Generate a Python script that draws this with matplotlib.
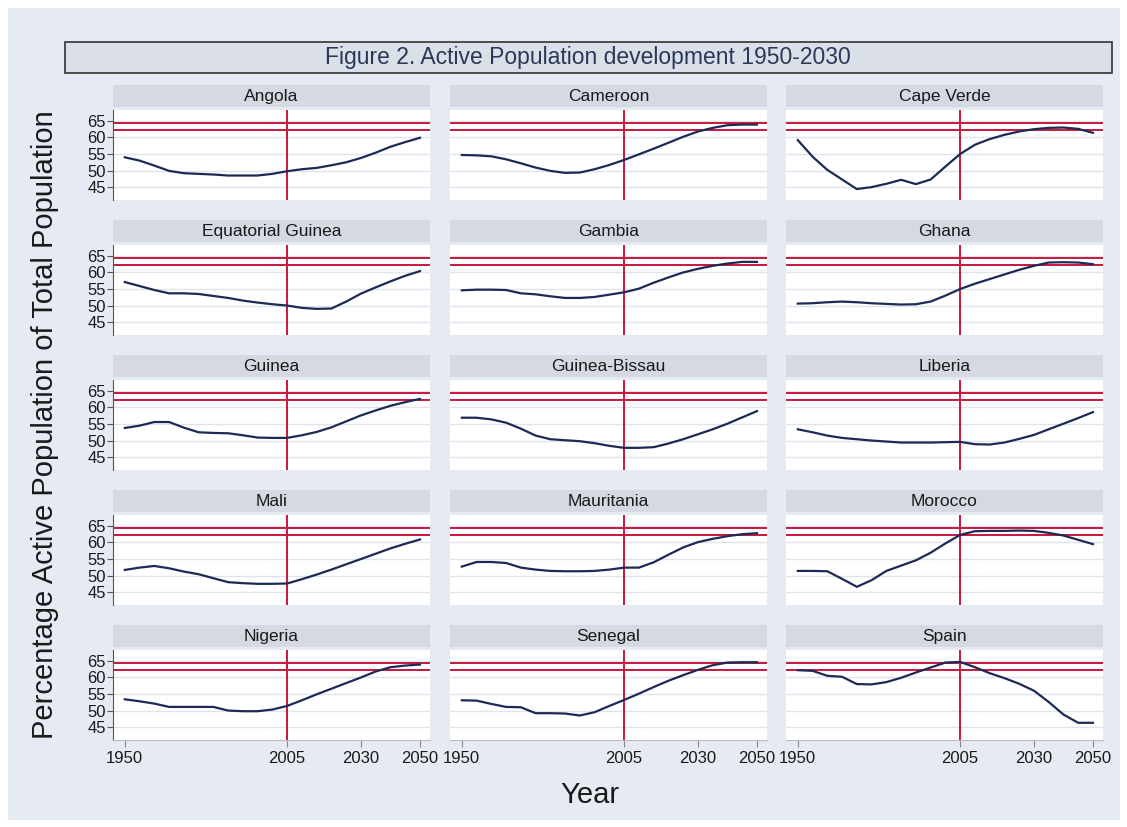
import numpy as np
import matplotlib.pyplot as plt
from matplotlib.patches import Rectangle

plt.rcParams['font.family'] = ['Liberation Sans', 'DejaVu Sans']

years = list(range(1950, 2051, 5))

countries = ["Angola", "Cameroon", "Cape Verde",
             "Equatorial Guinea", "Gambia", "Ghana",
             "Guinea", "Guinea-Bissau", "Liberia",
             "Mali", "Mauritania", "Morocco",
             "Nigeria", "Senegal", "Spain"]

angola = [54.0, 53.0, 51.5, 49.9, 49.2, 49.0, 48.8, 48.5, 48.5, 48.5, 49.0,
          49.8, 50.4, 50.8, 51.6, 52.5, 53.8, 55.4, 57.2, 58.6, 59.9]
cameroon = [54.7, 54.6, 54.3, 53.4, 52.2, 50.9, 49.9, 49.3, 49.4, 50.4, 51.7,
            53.2, 54.9, 56.6, 58.4, 60.2, 61.8, 62.9, 63.7, 63.9, 63.9]
cape_verde = [59.2, 54.2, 50.2, 47.3, 44.4, 45.0, 46.0, 47.2, 45.9, 47.3, 51.2,
              55.0, 57.8, 59.5, 60.8, 61.8, 62.5, 62.9, 63.0, 62.6, 61.4]
eq_guinea = [57.1, 55.9, 54.7, 53.7, 53.7, 53.5, 52.9, 52.3, 51.5, 50.9, 50.4,
             50.0, 49.3, 49.0, 49.1, 51.2, 53.6, 55.5, 57.3, 59.0, 60.4]
gambia = [54.6, 54.8, 54.8, 54.7, 53.7, 53.4, 52.8, 52.3, 52.3, 52.6, 53.3,
          54.0, 55.1, 56.9, 58.5, 60.0, 61.1, 62.0, 62.7, 63.2, 63.2]
ghana = [50.6, 50.7, 51.0, 51.2, 51.0, 50.7, 50.5, 50.3, 50.4, 51.2, 53.0,
         55.0, 56.6, 58.0, 59.4, 60.8, 62.0, 63.0, 63.1, 63.0, 62.5]
guinea = [53.8, 54.5, 55.6, 55.6, 53.9, 52.5, 52.3, 52.2, 51.6, 50.9, 50.8,
          50.8, 51.6, 52.6, 54.0, 55.8, 57.6, 59.1, 60.5, 61.6, 62.6]
guinea_bissau = [56.9, 56.9, 56.4, 55.4, 53.6, 51.5, 50.4, 50.1, 49.8, 49.2, 48.4,
                 47.8, 47.8, 48.0, 49.1, 50.4, 51.9, 53.4, 55.1, 57.0, 58.9]
liberia = [53.4, 52.5, 51.5, 50.8, 50.4, 50.0, 49.7, 49.4, 49.4, 49.4, 49.5,
           49.6, 48.9, 48.8, 49.4, 50.5, 51.7, 53.4, 55.1, 56.8, 58.6]
mali = [51.7, 52.4, 52.9, 52.2, 51.2, 50.4, 49.2, 48.0, 47.7, 47.5, 47.5,
        47.6, 48.9, 50.3, 51.8, 53.4, 55.0, 56.6, 58.2, 59.6, 60.9]
mauritania = [52.7, 54.1, 54.1, 53.8, 52.4, 51.8, 51.4, 51.3, 51.3, 51.4, 51.8,
              52.4, 52.4, 54.0, 56.3, 58.5, 60.1, 61.1, 61.9, 62.5, 62.8]
morocco = [51.4, 51.4, 51.3, 49.0, 46.6, 48.6, 51.4, 53.0, 54.6, 56.9, 59.7,
           62.3, 63.4, 63.5, 63.5, 63.6, 63.5, 62.9, 62.1, 60.8, 59.5]
nigeria = [53.4, 52.8, 52.1, 51.1, 51.1, 51.1, 51.1, 50.0, 49.8, 49.8, 50.3,
           51.4, 53.1, 54.9, 56.6, 58.3, 60.0, 61.8, 63.1, 63.6, 63.9]
senegal = [53.1, 53.0, 52.0, 51.1, 51.0, 49.2, 49.2, 49.1, 48.5, 49.5, 51.4,
           53.2, 55.1, 57.1, 59.0, 60.7, 62.3, 63.7, 64.5, 64.6, 64.6]
spain = [62.2, 62.0, 60.5, 60.2, 58.0, 57.9, 58.6, 59.9, 61.5, 63.0, 64.5,
         64.7, 63.1, 61.3, 59.8, 58.1, 56.0, 52.6, 48.8, 46.3, 46.3]

series = [angola, cameroon, cape_verde, eq_guinea, gambia, ghana, guinea,
          guinea_bissau, liberia, mali, mauritania, morocco, nigeria, senegal, spain]

ref_levels = [62.2, 64.5]
ref_year = 2005
y_ticks = [45, 50, 55, 60, 65]
x_ticks = [1950, 2005, 2030, 2050]

W, H = 1127, 827
fig = plt.figure(figsize=(W / 100, H / 100), dpi=100, facecolor='white')

# hellblauer Hintergrund wie im Stata-Schema
fig.patches.append(Rectangle((8 / W, 1 - 820 / H), 1112 / W, 812 / H,
                             transform=fig.transFigure, facecolor='#e6eaf2',
                             edgecolor='none', zorder=-5))

# Titelkasten
fig.patches.append(Rectangle((65 / W, 1 - 73 / H), 1047 / W, 31 / H,
                             transform=fig.transFigure, facecolor='#dadfe8',
                             edgecolor='#333333', linewidth=1.2, zorder=-4))
fig.text(588 / W, 1 - 57.5 / H, "Figure 2. Active Population development 1950-2030",
         ha='center', va='center', fontsize=16.5, color='#2a3858')

col_left = [113, 450, 786]
panel_w = 317
red = '#c8163c'
navy = '#1c2a55'

for i, (name, vals) in enumerate(zip(countries, series)):
    r, c = divmod(i, 3)
    top = 110 + 135 * r
    x0 = col_left[c]
    ax = fig.add_axes([x0 / W, 1 - (top + 90) / H, panel_w / W, 90 / H])
    ax.set_facecolor('white')
    ax.set_xlim(1946, 2053.4)
    ax.set_ylim(41.1, 68.3)
    ax.set_yticks(y_ticks)
    ax.set_xticks(x_ticks)
    for yv in y_ticks:
        ax.axhline(yv, color='#dfe3ea', lw=1.0, zorder=1)
    for lv in ref_levels:
        ax.axhline(lv, color=red, lw=1.4, zorder=2)
    ax.axvline(ref_year, color=red, lw=1.4, zorder=2)
    ax.plot(years, vals, color=navy, lw=1.6, zorder=3)

    for s in ['top', 'right']:
        ax.spines[s].set_visible(False)
    if c == 0:
        ax.spines['left'].set_color('#555555')
        ax.tick_params(axis='y', length=4, color='#555555', labelsize=12,
                       pad=1, labelcolor='#1a1a1a')
    else:
        ax.spines['left'].set_visible(False)
        ax.tick_params(axis='y', length=0, labelleft=False)
    if r == 4:
        ax.spines['bottom'].set_color('#bbbbbb')
        ax.tick_params(axis='x', length=5, color='#888888', labelsize=12,
                       pad=3, labelcolor='#1a1a1a')
    else:
        ax.spines['bottom'].set_visible(False)
        ax.tick_params(axis='x', length=0, labelbottom=False)

    # Kopfleiste mit Landesname
    hx = fig.add_axes([x0 / W, 1 - (top - 3) / H, panel_w / W, 22 / H])
    hx.set_facecolor('#d5dae2')
    hx.set_xticks([])
    hx.set_yticks([])
    for s in hx.spines.values():
        s.set_visible(False)
    hx.text(0.5, 0.48, name, ha='center', va='center', fontsize=12.5,
            color='#1a1a1a', transform=hx.transAxes)

fig.text(45 / W, 1 - 425 / H, "Percentage Active Population of Total Population",
         rotation=90, ha='center', va='center', fontsize=21, color='#1a1a1a')
fig.text(590 / W, 1 - 795 / H, "Year", ha='center', va='center', fontsize=21,
         color='#1a1a1a')

fig.savefig('out.png', dpi=100, facecolor=fig.get_facecolor())
